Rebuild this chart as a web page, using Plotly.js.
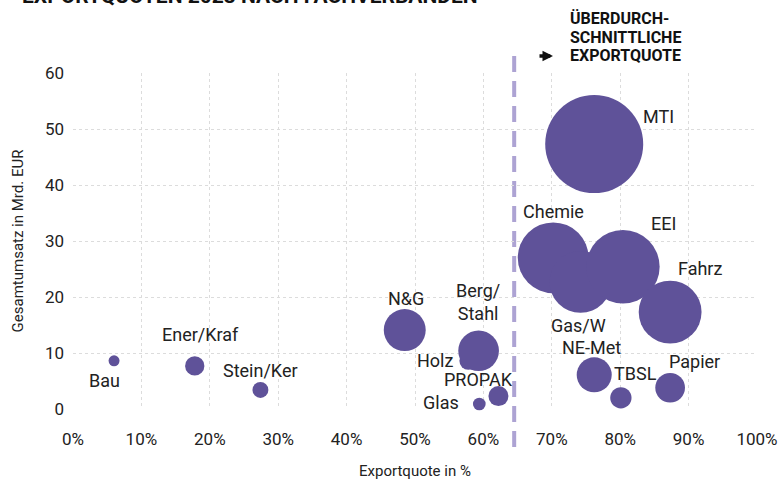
<!DOCTYPE html>
<html>
<head>
<meta charset="utf-8">
<script src="https://cdn.plot.ly/plotly-3.0.1.min.js"></script>
<style>html,body{margin:0;padding:0;background:#fff;}#chart{width:783px;height:480px;}</style>
</head>
<body>
<div id="chart"></div>
<script>
// Data
const verbaende = ['Bau','Ener/Kraf','Stein/Ker','N&G','Holz','Berg/Stahl','Glas','PROPAK','Chemie','Gas/W','MTI','EEI','NE-Met','TBSL','Fahrz','Papier'];
const exportquote = [6.0, 17.8, 27.4, 48.5, 57.8, 59.3, 59.4, 62.2, 70.2, 74.2, 76.2, 80.4, 76.2, 80.1, 87.3, 87.3];
const gesamtumsatz = [8.6, 7.7, 3.4, 14.1, 8.6, 10.4, 0.9, 2.3, 27.0, 22.7, 47.3, 25.4, 6.1, 2.0, 17.3, 3.8];
const exporte = [0.45, 1.4, 0.95, 6.6, 1.2, 6.2, 0.6, 1.5, 18.8, 14.4, 36.0, 20.2, 4.6, 1.7, 14.8, 3.3];
const durchschnitt = 64.5;
const xTicks = [0,10,20,30,40,50,60,70,80,90,100];
const yTicks = [0,10,20,30,40,50,60];

// Label placement (pixel offsets from bubble centre), styling only
const labelStyle = {
  'Bau':        {dx:-10, dy:20},
  'Ener/Kraf':  {dx:6, dy:-31},
  'Stein/Ker':  {dx:0, dy:-19},
  'N&G':        {dx:1, dy:-32},
  'Holz':       {dx:-13, dy:0, anchor:'right'},
  'Berg/Stahl': {dx:-1, dy:-49, text:'Berg/<br>Stahl'},
  'Glas':       {dx:-18, dy:-1, anchor:'right'},
  'PROPAK':     {dx:-20, dy:-17},
  'Chemie':     {dx:0, dy:-46},
  'Gas/W':      {dx:-2, dy:44},
  'MTI':        {dx:64, dy:-28},
  'EEI':        {dx:41, dy:-43},
  'NE-Met':     {dx:-3, dy:-27},
  'TBSL':       {dx:15, dy:-24},
  'Fahrz':      {dx:30, dy:-44},
  'Papier':     {dx:24, dy:-26}
};

const FONT = 'Roboto, "Noto Sans", sans-serif';
const TXT = '#222222';
const PURPLE = '#5F5299';
const maxDiam = 98;
const sizeref = 2 * Math.max(...exporte) / (maxDiam * maxDiam);

const trace = {
  type: 'scatter',
  mode: 'markers',
  x: exportquote,
  y: gesamtumsatz,
  text: verbaende,
  hoverinfo: 'text',
  marker: {
    size: exporte,
    sizemode: 'area',
    sizeref: sizeref,
    sizemin: 2,
    color: PURPLE,
    opacity: 1,
    line: {width: 0}
  },
  cliponaxis: false
};

const annotations = verbaende.map((n, i) => {
  const s = labelStyle[n];
  return {
    x: exportquote[i], y: gesamtumsatz[i], xref: 'x', yref: 'y',
    text: s.text || n, showarrow: false,
    xanchor: s.anchor || 'center', yanchor: 'middle',
    xshift: s.dx, yshift: -s.dy,
    font: {family: FONT, size: 18, color: TXT}
  };
});

const pxToPaperY = p => 1 + (73 - p) / 336;
const pxToPaperX = p => (p - 73) / 684;

annotations.push(
  {xref:'paper', yref:'paper', x: pxToPaperX(20), y: pxToPaperY(-4), xanchor:'left', yanchor:'middle', showarrow:false,
   text:'<b>EXPORTQUOTEN 2023 NACH FACHVERBÄNDEN</b>', font:{family:FONT, size:21, color:'#111'}},
  {xref:'paper', yref:'paper', x: pxToPaperX(553), y: pxToPaperY(56), showarrow:true, text:'',
   ax: -15, ay: 0, arrowhead: 2, arrowsize: 0.6, arrowwidth: 3.5, arrowcolor: '#111', standoff: 0, startstandoff: 0},
  {xref:'paper', yref:'paper', x: pxToPaperX(568), y: pxToPaperY(19), xanchor:'left', yanchor:'middle', showarrow:false,
   text:'<b>ÜBERDURCH-</b>', font:{family:FONT, size:16, color:'#111'}},
  {xref:'paper', yref:'paper', x: pxToPaperX(568), y: pxToPaperY(37.5), xanchor:'left', yanchor:'middle', showarrow:false,
   text:'<b>SCHNITTLICHE</b>', font:{family:FONT, size:16, color:'#111'}},
  {xref:'paper', yref:'paper', x: pxToPaperX(568), y: pxToPaperY(56), xanchor:'left', yanchor:'middle', showarrow:false,
   text:'<b>EXPORTQUOTE</b>', font:{family:FONT, size:16, color:'#111'}}
);

const layout = {
  width: 783, height: 480,
  margin: {l: 73, r: 26, t: 73, b: 71},
  paper_bgcolor: '#ffffff', plot_bgcolor: '#ffffff',
  showlegend: false,
  font: {family: FONT, color: TXT},
  xaxis: {
    range: [0, 100], tickvals: xTicks, ticktext: xTicks.map(v => v + '%'),
    showgrid: true, gridcolor: '#dcdcdc', griddash: 'dot', gridwidth: 1,
    zeroline: false, showline: false, ticks: '',
    ticklabelstandoff: 18,
    tickfont: {family: FONT, size: 17, color: TXT},
    title: {text: 'Exportquote in %', font: {family: FONT, size: 15, color: TXT}, standoff: 21},
    automargin: false, fixedrange: true
  },
  yaxis: {
    range: [0, 60], tickvals: yTicks,
    showgrid: true, gridcolor: '#dcdcdc', griddash: 'dot', gridwidth: 1,
    zeroline: false, showline: false, ticks: '',
    ticklabelstandoff: 8,
    tickfont: {family: FONT, size: 17, color: TXT},
    title: {text: 'Gesamtumsatz in Mrd. EUR', font: {family: FONT, size: 15, color: TXT}, standoff: 17},
    automargin: false, fixedrange: true
  },
  shapes: [{
    type: 'line', xref: 'x', yref: 'paper',
    x0: durchschnitt, x1: durchschnitt, y0: pxToPaperY(447), y1: pxToPaperY(52),
    line: {color: '#ADA3D3', width: 4, dash: '16px,9px'}, layer: 'below'
  }],
  annotations: annotations
};

Plotly.newPlot('chart', [trace], layout, {displayModeBar: false, staticPlot: true});
</script>
</body>
</html>
